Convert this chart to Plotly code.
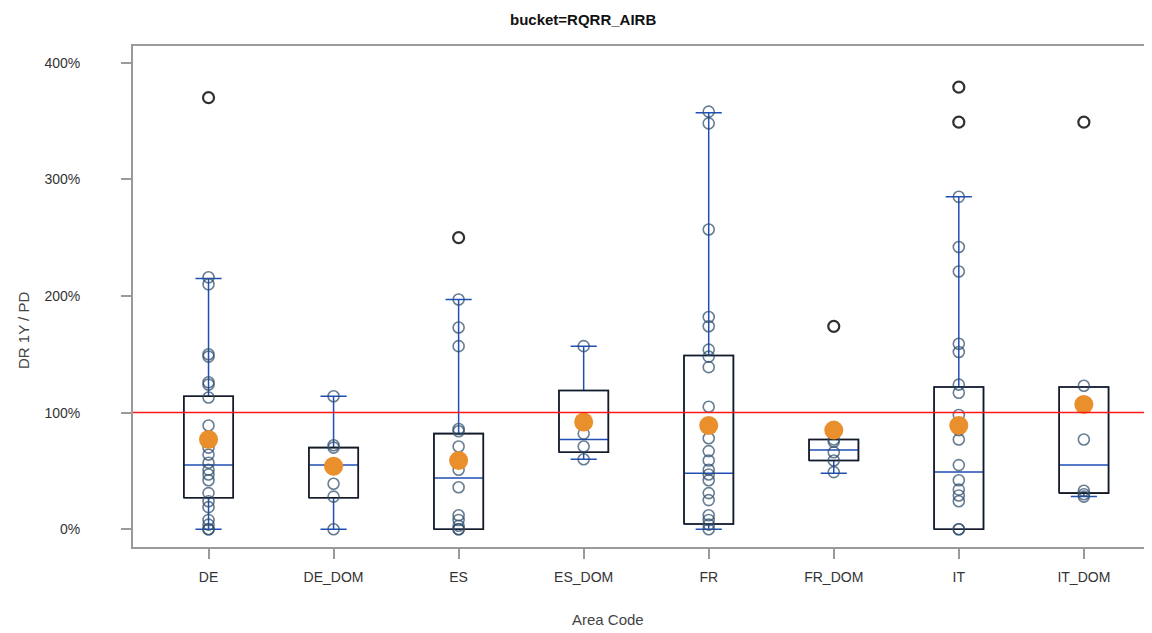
import plotly.graph_objects as go

# ---------------- data (values in %) ----------------
categories = ["DE", "DE_DOM", "ES", "ES_DOM", "FR", "FR_DOM", "IT", "IT_DOM"]

points_DE = [216, 210, 150, 148, 126, 124, 113, 89, 70, 64, 57, 51, 47, 42, 31, 24, 19, 8, 4, 0, 0]
points_DE_DOM = [114, 72, 70, 39, 28, 0]
points_ES = [197, 173, 157, 86, 84, 71, 51, 36, 12, 8, 3, 0, 0]
points_ES_DOM = [157, 82, 71, 60]
points_FR = [358, 348, 257, 182, 174, 154, 148, 139, 105, 78, 67, 59, 51, 47, 42, 31, 25, 12, 8, 4, 0]
points_FR_DOM = [77, 75, 66, 59, 49]
points_IT = [285, 242, 221, 159, 152, 124, 117, 98, 85, 77, 55, 42, 34, 29, 24, 0, 0]
points_IT_DOM = [123, 77, 33, 30, 28]

outliers_DE = [370]
outliers_DE_DOM = []
outliers_ES = [250]
outliers_ES_DOM = []
outliers_FR = []
outliers_FR_DOM = [174]
outliers_IT = [379, 349]
outliers_IT_DOM = [349]

q1 = [27, 27, 0, 66, 4.5, 59, 0, 31]
median = [55, 55, 44, 77, 48, 68, 49, 55]
q3 = [114, 70, 82, 119, 149, 77, 122, 122]
lower_whisker = [0, 0, 0, 60, 0, 48, 0, 28]
upper_whisker = [215, 114, 197, 157, 357, 77, 285, 122]
means = [77, 54, 59, 92, 89, 85, 89, 107]

reference_level = 100
y_ticks = [0, 100, 200, 300, 400]
y_tick_labels = ["0%", "100%", "200%", "300%", "400%"]

title_text = "bucket=RQRR_AIRB"
x_title = "Area Code"
y_title = "DR 1Y / PD"

# ---------------- build figure ----------------
all_points = [points_DE, points_DE_DOM, points_ES, points_ES_DOM,
              points_FR, points_FR_DOM, points_IT, points_IT_DOM]
all_outliers = [outliers_DE, outliers_DE_DOM, outliers_ES, outliers_ES_DOM,
                outliers_FR, outliers_FR_DOM, outliers_IT, outliers_IT_DOM]

pos = list(range(len(categories)))
BOX_W = 0.395
FONT = "Liberation Sans, Arial, sans-serif"
BLUE = "#1f4fb5"

fig = go.Figure()

# blue whiskers, caps, median
fig.add_trace(go.Box(
    x=pos, q1=q1, median=median, q3=q3,
    lowerfence=lower_whisker, upperfence=upper_whisker,
    width=BOX_W, whiskerwidth=0.53,
    line=dict(color=BLUE, width=1.5),
    fillcolor="rgba(0,0,0,0)", boxpoints=False,
    showlegend=False, hoverinfo="skip",
))

# black box outlines
bx, by = [], []
for p, a, b in zip(pos, q1, q3):
    bx += [p - BOX_W / 2, p + BOX_W / 2, p + BOX_W / 2, p - BOX_W / 2, p - BOX_W / 2, None]
    by += [a, a, b, b, a, None]
fig.add_trace(go.Scatter(x=bx, y=by, mode="lines",
                         line=dict(color="#1a1a1a", width=1.6),
                         showlegend=False, hoverinfo="skip"))

# observations
px_, py_ = [], []
for p, vals in zip(pos, all_points):
    px_ += [p] * len(vals)
    py_ += vals
fig.add_trace(go.Scatter(
    x=px_, y=py_, mode="markers",
    marker=dict(symbol="circle-open", size=11,
                color="rgba(45,75,105,0.72)", line=dict(width=1.6)),
    showlegend=False))

ox, oy = [], []
for p, vals in zip(pos, all_outliers):
    ox += [p] * len(vals)
    oy += vals
fig.add_trace(go.Scatter(
    x=ox, y=oy, mode="markers",
    marker=dict(symbol="circle-open", size=11,
                color="rgba(25,25,25,0.9)", line=dict(width=2.2)),
    showlegend=False))

# means
fig.add_trace(go.Scatter(
    x=pos, y=means, mode="markers",
    marker=dict(symbol="circle", size=19, color="#e98f2c"),
    showlegend=False))

# 100% reference line
fig.add_shape(type="line", xref="paper", yref="y", x0=0, x1=1,
              y0=reference_level, y1=reference_level,
              line=dict(color="#ff1a1a", width=1.5), layer="above")

# page body has an 8px margin; lay the figure out in its own coordinates
OFF = 8
FW, FH = 1152 - OFF, 633 - OFF
pl, pt, pr, pb = 133 - OFF, 46 - OFF, 1152 - OFF, 547 - OFF
pw, ph = pr - pl, pb - pt


def px2paper(x, y):
    return (x - OFF - pl) / pw, 1 - (y - OFF - pt) / ph


tx, ty = px2paper(583, 20)
ax_, ay_ = px2paper(608, 619)
yx, yy = px2paper(23, 331)

fig.update_layout(
    width=FW, height=FH,
    margin=dict(l=pl, r=FW - pr, t=pt, b=FH - pb, autoexpand=False),
    paper_bgcolor="white", plot_bgcolor="white",
    font=dict(family=FONT, color="#333333", size=14),
    showlegend=False,
    annotations=[
        dict(text=title_text, x=tx, y=ty, xref="paper", yref="paper",
             xanchor="center", yanchor="middle", showarrow=False,
             font=dict(size=15, color="#111111", family=FONT, weight="bold")),
        dict(text=x_title, x=ax_, y=ay_, xref="paper", yref="paper",
             xanchor="center", yanchor="middle", showarrow=False,
             font=dict(size=15, color="#444444", family=FONT)),
        dict(text=y_title, x=yx, y=yy, xref="paper", yref="paper", textangle=-90,
             xanchor="center", yanchor="middle", showarrow=False,
             font=dict(size=15, color="#444444", family=FONT)),
    ],
)

fig.update_xaxes(
    range=[-0.604, 7.545], automargin=False,
    tickmode="array", tickvals=pos, ticktext=categories,
    showline=True, linecolor="#9a9a9a", linewidth=2, mirror=True,
    ticks="outside", ticklen=10, tickcolor="#9a9a9a", tickwidth=1.5,
    tickfont=dict(size=14, family=FONT, color="#333333"),
    ticklabelstandoff=6,
    showgrid=False, zeroline=False,
)
fig.update_yaxes(
    range=[-15.2, 414.3], automargin=False,
    tickmode="array", tickvals=y_ticks, ticktext=y_tick_labels,
    showline=True, linecolor="#9a9a9a", linewidth=2,
    ticks="outside", ticklen=10, tickcolor="#9a9a9a", tickwidth=1.5,
    tickfont=dict(size=14, family=FONT, color="#333333"),
    ticklabelstandoff=38,
    showgrid=False, zeroline=False,
)

fig.write_html("out.html")
